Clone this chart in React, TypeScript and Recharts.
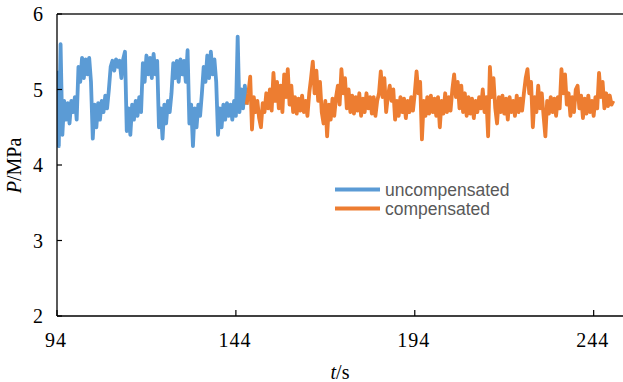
import React from 'react';
import { LineChart, Line, XAxis, YAxis, ReferenceLine } from 'recharts';

// time sampling
const BLUE_START = 94.0;
const ORANGE_START = 147.0;
const STEP = 0.5;

const xTicks = [94, 144, 194, 244];
const yTicks = [2, 3, 4, 5, 6];

const uncompensatedValues = [
  5.25, 4.25, 5.6, 4.4, 4.85, 4.6, 4.82, 4.55, 4.85, 4.7,
  4.9, 4.6, 5.3, 5.1, 5.42, 5.15, 5.4, 5.2, 5.42, 5.1,
  4.35, 4.8, 4.5, 4.82, 4.6, 4.85, 4.7, 4.92, 4.75, 5.0,
  5.3, 5.38, 5.25, 5.4, 5.3, 5.38, 5.15, 5.4, 5.5, 4.45,
  4.75, 4.4, 4.8, 4.6, 4.85, 4.65, 4.9, 4.7, 5.35, 5.1,
  5.45, 5.2, 5.42, 5.15, 5.47, 5.2, 5.38, 4.5, 4.75, 4.35,
  4.8, 4.55, 4.85, 4.7, 4.95, 5.35, 5.15, 5.38, 5.1, 5.4,
  5.2, 5.38, 5.1, 5.52, 4.55, 4.8, 4.25, 4.75, 4.5, 4.8,
  4.65, 4.95, 5.3, 5.1, 5.45, 5.15, 5.5, 5.2, 5.4, 5.1,
  4.4, 4.75, 4.5, 4.8, 4.6, 4.82, 4.65, 4.8, 4.6, 4.85,
  4.65, 5.7, 4.7, 5.0, 4.75, 5.05, 4.8,
];

const compensatedValues = [
  4.8, 4.95, 5.17, 4.47, 4.9, 4.7, 4.85, 4.62, 4.5, 4.82,
  4.7, 4.95, 4.75, 5.0, 4.72, 5.22, 4.85, 5.1, 4.75, 5.05,
  4.7, 5.2, 4.9, 5.27, 4.8, 5.05, 4.7, 4.9, 4.68, 4.88,
  4.72, 4.92, 4.7, 4.85, 4.65, 4.95, 5.15, 5.37, 4.95, 5.25,
  4.85, 5.1, 4.7, 4.55, 4.85, 4.38, 4.8, 4.6, 4.88, 4.65,
  4.9, 5.05, 4.8, 5.27, 4.95, 5.15, 4.75, 5.0, 4.7, 4.92,
  4.68, 4.9, 4.72, 4.95, 4.65, 4.88, 4.7, 4.95, 4.75, 4.9,
  4.68, 4.9, 4.65, 4.85, 4.95, 5.24, 4.9, 5.15, 4.7, 4.92,
  5.05, 4.85, 5.0, 4.6, 4.85, 4.65, 4.9, 4.7, 4.88, 4.62,
  4.85, 4.7, 4.9, 4.72, 4.95, 5.24, 4.95, 5.1, 4.34, 4.85,
  4.65, 4.9, 4.68, 4.92, 4.7, 4.88, 4.65, 4.9, 4.5, 4.85,
  4.68, 4.95, 4.7, 4.9, 4.72, 5.0, 5.2, 4.9, 5.1, 4.75,
  5.05, 4.7, 4.95, 4.65, 4.9, 4.68, 4.88, 4.62, 4.85, 4.7,
  4.9, 4.75, 5.0, 4.7, 4.9, 4.38, 5.3, 4.9, 5.15, 4.75,
  4.55, 4.9, 4.7, 4.92, 4.68, 4.88, 4.6, 4.9, 4.7, 4.85,
  4.65, 4.92, 4.7, 4.88, 4.72, 4.95, 5.15, 5.27, 4.95, 5.1,
  4.5, 4.9, 4.7, 5.05, 4.75, 4.95, 4.65, 4.38, 4.85, 4.68,
  4.9, 4.7, 4.88, 4.65, 4.9, 4.75, 5.27, 4.95, 5.2, 4.8,
  4.95, 4.65, 4.9, 4.7, 5.0, 5.05, 4.75, 4.92, 4.62, 4.88,
  4.68, 4.92, 4.7, 4.85, 4.65, 4.9, 4.75, 5.22, 4.9, 5.1,
  4.75, 4.95, 4.78, 4.92, 4.8, 4.85,
];

const blueData = uncompensatedValues.map((p, i) => ({ t: BLUE_START + i * STEP, p }));
const orangeData = compensatedValues.map((p, i) => ({ t: ORANGE_START + i * STEP, p }));

const BLUE = '#5B9BD5';
const ORANGE = '#ED7D31';
const SERIF = '"Liberation Serif", "Times New Roman", serif';
const SANS = '"Liberation Sans", Arial, sans-serif';

const XTick = (props: any) => {
  const { x, y, payload } = props;
  return (
    <g>
      <line x1={x} y1={y} x2={x} y2={y - 6} stroke="#000" strokeWidth={1.2} />
      <text x={x - 1} y={y + 31} textAnchor="middle" fontFamily={SERIF} fontSize={20} fill="#000" letterSpacing={1}>
        {payload.value}
      </text>
    </g>
  );
};

const YTick = (props: any) => {
  const { x, y, payload } = props;
  return (
    <g>
      <line x1={x} y1={y} x2={x + 5} y2={y} stroke="#000" strokeWidth={1.2} />
      <text x={x - 14} y={y + 7} textAnchor="end" fontFamily={SERIF} fontSize={20} fill="#000">
        {payload.value}
      </text>
    </g>
  );
};

const XTitle = () => (
  <text x={340} y={379} textAnchor="middle" fontFamily={SERIF} fontSize={20} fill="#000">
    <tspan fontStyle="italic">t</tspan>
    <tspan>/s</tspan>
  </text>
);

const YTitle = () => (
  <text x={21} y={165.5} textAnchor="middle" fontFamily={SERIF} fontSize={20} fill="#000" transform="rotate(-90, 21, 165.5)">
    <tspan fontStyle="italic">P</tspan>
    <tspan>/MPa</tspan>
  </text>
);

export default function App() {
  return (
    <div style={{ position: 'absolute', left: 0, top: 0, width: 623, height: 382, background: '#fff' }}>
      <LineChart width={623} height={382} margin={{ top: 14, right: 0, bottom: 0, left: 0 }}>
        <XAxis
          type="number"
          dataKey="t"
          domain={[94, 252.2]}
          ticks={xTicks}
          allowDataOverflow
          height={66}
          tickSize={0}
          tickMargin={0}
          tickLine={false}
          tick={<XTick />}
          axisLine={{ stroke: '#000', strokeWidth: 1.3 }}
          label={<XTitle />}
          interval={0}
        />
        <YAxis
          type="number"
          domain={[2, 6]}
          ticks={yTicks}
          allowDataOverflow
          width={57}
          tickSize={0}
          tickMargin={0}
          tickLine={false}
          tick={<YTick />}
          axisLine={{ stroke: '#000', strokeWidth: 1.3 }}
          label={<YTitle />}
          interval={0}
        />
        <ReferenceLine y={6} stroke="#222" strokeWidth={1.5} />
        <Line
          data={blueData}
          dataKey="p"
          type="linear"
          stroke={BLUE}
          strokeWidth={3.8}
          strokeLinejoin="round"
          dot={false}
          activeDot={false}
          isAnimationActive={false}
          name="uncompensated"
        />
        <Line
          data={orangeData}
          dataKey="p"
          type="linear"
          stroke={ORANGE}
          strokeWidth={3.8}
          strokeLinejoin="round"
          dot={false}
          activeDot={false}
          isAnimationActive={false}
          name="compensated"
        />
      </LineChart>
      <svg width={623} height={382} style={{ position: 'absolute', left: 0, top: 0, pointerEvents: 'none' }}>
        <line x1={335} y1={189.5} x2={380} y2={189.5} stroke={BLUE} strokeWidth={4} />
        <text x={385} y={195.5} fontFamily={SANS} fontSize={17.5} fill="#595959">uncompensated</text>
        <line x1={335} y1={208.5} x2={380} y2={208.5} stroke={ORANGE} strokeWidth={4} />
        <text x={385} y={214.5} fontFamily={SANS} fontSize={17.5} fill="#595959">compensated</text>
      </svg>
    </div>
  );
}
